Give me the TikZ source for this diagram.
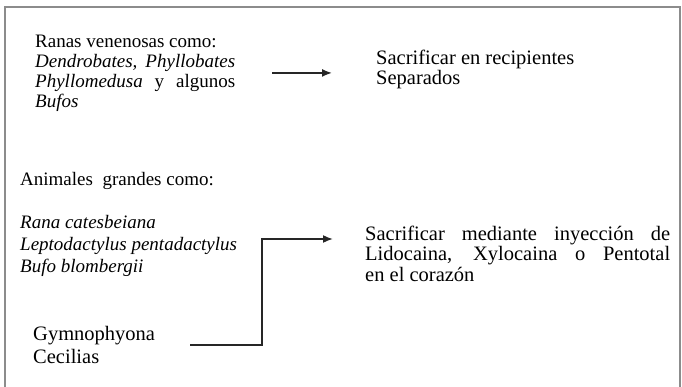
\documentclass[tikz,border=0pt]{standalone}
\usepackage{fontspec}
\setmainfont{Liberation Serif}
\usetikzlibrary{arrows.meta, positioning}

\begin{document}
\begin{tikzpicture}[
  x=1pt,y=-1pt,
  txt/.style={anchor=north west, inner sep=0pt, align=left, font=\fontsize{19}{20}\selectfont},
  big/.style={txt, font=\fontsize{20.5}{20.5}\selectfont},
  flecha/.style={-{Latex[length=10pt,width=8pt]}, line width=1.6pt, black!85}
]
\useasboundingbox (0,0) rectangle (682,387);

% marco
\draw[gray!90, line width=2.2pt] (5,387) -- (5,7) -- (680,7) -- (680,387);

% arriba: ranas venenosas
\node[txt] (ranas) at (35,34.5) {Ranas venenosas como:\\
  \makebox[200pt][s]{\textit{Dendrobates, Phyllobates}}\\
  \makebox[200pt][s]{\textit{Phyllomedusa} y algunos}\\
  \textit{Bufos}};
\node[big] (sacsep) at (376,49.5) {Sacrificar en recipientes\\Separados};
\draw[flecha] ([xshift=37pt]ranas.east) -- ([xshift=-44pt]ranas.east -| sacsep.west);

% abajo: animales grandes
\node[txt] (grandes) at (20,172.6) {Animales\ \ grandes como:};
\node[txt, font=\fontsize{19}{22}\selectfont] (especies) at (20,215.6) {\textit{Rana catesbeiana}\\
  \textit{Leptodactylus pentadactylus}\\
  \textit{Bufo blombergii}};
\node[big, font=\fontsize{20.5}{23}\selectfont] (cecilias) at (33,326.3) {Gymnophyona\\Cecilias};
\node[big] (sacinj) at (365,225.5) {\makebox[305pt][s]{Sacrificar mediante inyección de}\\
  \makebox[305pt][s]{Lidocaina, Xylocaina o Pentotal}\\
  en el corazón};
\draw[flecha] ([xshift=35pt]cecilias.east) -- ++(72,0) |- ([xshift=-32pt,yshift=-13.5pt]sacinj.north west);

\end{tikzpicture}
\end{document}
